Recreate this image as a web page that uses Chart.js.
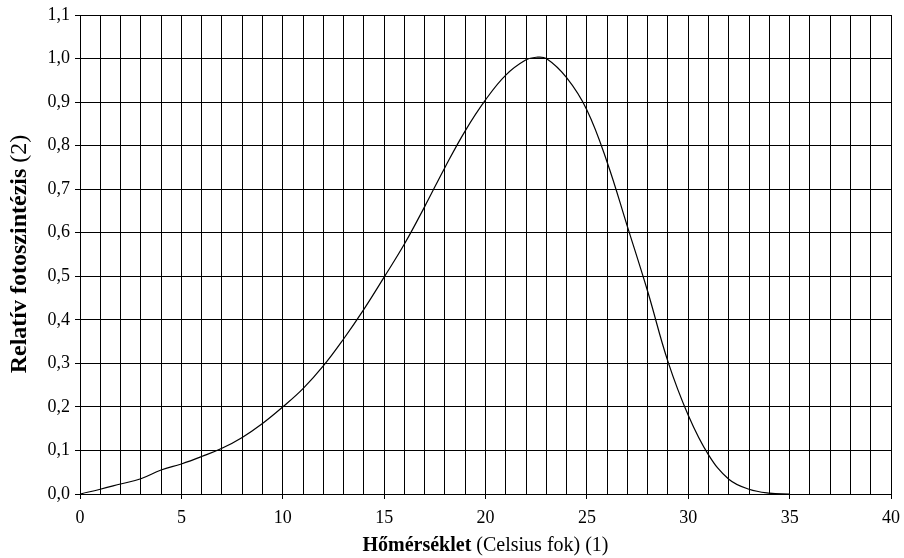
<!DOCTYPE html>
<html>
<head>
<meta charset="utf-8">
<script src="https://cdn.jsdelivr.net/npm/chart.js@4"></script>
<style>
  html, body { margin: 0; padding: 0; background: #fff; }
  #wrap { width: 904px; height: 558px; }
</style>
</head>
<body>
<div id="wrap"><canvas id="fotoChart" width="904" height="558"></canvas></div>
<script>
// Hőmérséklet (°C) és relatív fotoszintézis
const homerseklet = [0, 1, 2, 3, 4, 5, 6, 7, 8, 9, 10, 11, 12, 13, 14, 15, 16, 17, 18, 19, 20,
    21, 22, 22.5, 23, 24, 25, 26, 27, 28, 29, 30, 31, 32, 33, 34, 35];
const fotoszintezis = [0, 0.011, 0.023, 0.035, 0.055, 0.069, 0.086, 0.105, 0.130, 0.162, 0.200,
    0.242, 0.294, 0.356, 0.424, 0.498, 0.574, 0.660, 0.750, 0.834, 0.905,
    0.962, 0.997, 1.003, 1.000, 0.956, 0.882, 0.762, 0.614, 0.465, 0.304, 0.181, 0.090, 0.034, 0.011, 0.002, 0];
const xTickLabels = [0, 5, 10, 15, 20, 25, 30, 35, 40];
const yTicks = [0, 0.1, 0.2, 0.3, 0.4, 0.5, 0.6, 0.7, 0.8, 0.9, 1.0, 1.1];

const serif = "'Liberation Serif', 'Times New Roman', serif";

// vegyes (félkövér + normál) tengelycímek
const axisTitles = {
    id: 'axisTitles',
    afterDraw(chart) {
        const ctx = chart.ctx;
        const area = chart.chartArea;

        function mixed(parts, cx, cy, rotate) {
            ctx.save();
            ctx.translate(cx, cy);
            if (rotate) ctx.rotate(-Math.PI / 2);
            let total = 0;
            parts.forEach(p => { ctx.font = p[1]; total += ctx.measureText(p[0]).width; });
            let x = -total / 2;
            ctx.fillStyle = '#000';
            ctx.textBaseline = 'middle';
            ctx.textAlign = 'left';
            parts.forEach(p => {
                ctx.font = p[1];
                ctx.fillText(p[0], x, 0);
                x += ctx.measureText(p[0]).width;
            });
            ctx.restore();
        }

        mixed([['Hőmérséklet', 'bold 20px ' + serif], [' (Celsius fok) (1)', '20px ' + serif]],
            (area.left + area.right) / 2, 546, false);
        mixed([['Relatív fotoszintézis', 'bold 24px ' + serif], [' (2)', '24px ' + serif]],
            20, 254, true);
    }
};

const ctx = document.getElementById('fotoChart').getContext('2d');
new Chart(ctx, {
    type: 'line',
    data: {
        datasets: [{
            data: homerseklet.map((t, i) => ({ x: t, y: fotoszintezis[i] })),
            borderColor: '#000',
            borderWidth: 1.2,
            pointRadius: 0,
            fill: false,
            tension: 0.4
        }]
    },
    options: {
        responsive: false,
        animation: false,
        layout: {
            padding: { top: 15, right: 13, left: 0, bottom: 0 }
        },
        plugins: {
            legend: { display: false },
            tooltip: { enabled: false }
        },
        scales: {
            x: {
                type: 'linear',
                min: 0,
                max: 40,
                afterFit(axis) {
                    axis.height = 64;
                    axis.paddingLeft = 0;
                    axis.paddingRight = 0;
                },
                ticks: {
                    stepSize: 1,
                    autoSkip: false,
                    maxRotation: 0,
                    padding: 8,
                    color: '#000',
                    font: { family: serif, size: 18 },
                    callback: v => xTickLabels.includes(v) ? String(v) : ''
                },
                grid: {
                    color: '#000',
                    lineWidth: 1,
                    tickLength: 5,
                    tickColor: c => (c.tick && c.tick.value % 5 === 0) ? '#000' : 'rgba(0,0,0,0)'
                },
                border: { color: '#000', width: 1 }
            },
            y: {
                min: 0,
                max: 1.1,
                afterFit(axis) {
                    axis.width = 80;
                    axis.paddingTop = 0;
                    axis.paddingBottom = 0;
                },
                afterBuildTicks(axis) { axis.ticks = yTicks.map(v => ({ value: v })); },
                ticks: {
                    padding: 5,
                    color: '#000',
                    font: { family: serif, size: 18 },
                    callback: v => v.toFixed(1).replace('.', ',')
                },
                grid: {
                    color: '#000',
                    lineWidth: 1,
                    tickLength: 5,
                    tickColor: '#000'
                },
                border: { color: '#000', width: 1 }
            }
        }
    },
    plugins: [axisTitles]
});
</script>
</body>
</html>
